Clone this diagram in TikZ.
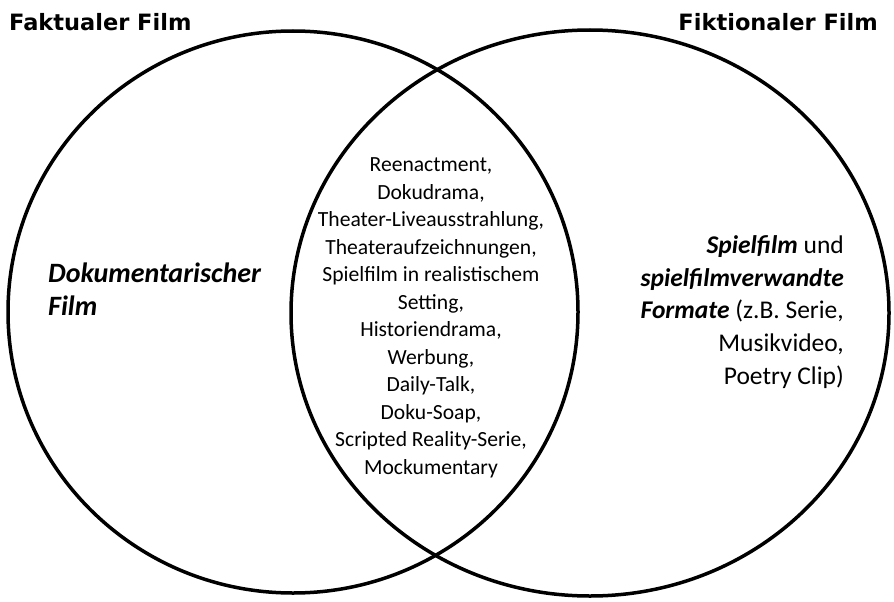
\documentclass[tikz,border=0pt]{standalone}
\usepackage{fontspec}
\setmainfont{Carlito}
\newfontfamily\titlefont{DejaVu Sans}
\usetikzlibrary{positioning}
\tikzset{
  filmset/.style={line width=3.5pt},
  titel/.style={font=\titlefont\bfseries\fontsize{22.5}{26}\selectfont, inner sep=0pt},
  listtext/.style={align=center, font=\fontsize{21.6}{27.5}\selectfont, inner sep=0pt},
  sidetext/.style={font=\fontsize{25.5}{32.7}\selectfont, inner sep=0pt},
}

\begin{document}
\begin{tikzpicture}[x=1pt,y=-1pt]
            \useasboundingbox (0,0) rectangle (894,602);
            % the two sets
            \draw[filmset] (293,312) ellipse [x radius=285, y radius=281];
            \draw[filmset] (590,313) ellipse [x radius=299, y radius=283];

            \node (fakt) [titel,anchor=west] at (9,22)  {Faktualer Film};
            \node (fikt) [titel,anchor=east] at (878,22) {Fiktionaler Film};

            \node (doku) [sidetext,font=\fontsize{28}{32.7}\selectfont,align=left,anchor=west] at (48,289)
                {\textbf{\textit{Dokumentarischer}}\\\textbf{\textit{Film}}};
            \node (mitte) [listtext] at (431,318)
                {Reenactment,\\Dokudrama,\\Theater-Liveausstrahlung,\\Theateraufzeichnungen,\\
                 Spielfilm in realistischem\\Setting,\\Historiendrama,\\Werbung,\\Daily-Talk,\\
                 Doku-Soap,\\Scripted Reality-Serie,\\Mockumentary};
            \node (spiel) [sidetext,align=right,anchor=east] at (844,312)
                {\textbf{\textit{Spielfilm}} und\\\textbf{\textit{spielfilmverwandte}}\\
                 \textbf{\textit{Formate}} (z.B. Serie,\\Musikvideo,\\Poetry Clip)};
        \end{tikzpicture}
\end{document}
